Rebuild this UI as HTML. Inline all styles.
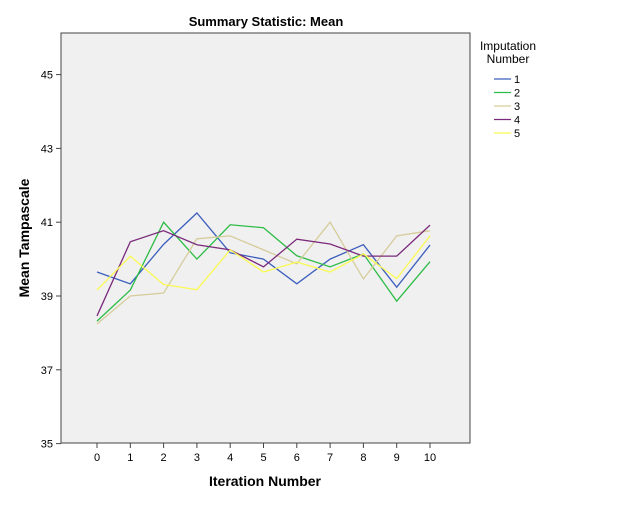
<!DOCTYPE html>
<html><head><meta charset="utf-8"><style>
body{margin:0;background:#fff;font-family:"Liberation Sans",Arial,sans-serif}
svg text{font-family:"Liberation Sans",Arial,sans-serif}
</style></head><body>
<svg id="chart" width="629" height="504" xmlns="http://www.w3.org/2000/svg">
<rect width="629" height="504" fill="#fff"/>
<text x="266" y="26" text-anchor="middle" font-size="13" font-weight="bold">Summary Statistic: Mean</text>
<rect x="61" y="33" width="409" height="410" fill="#f0f0f0" stroke="#444" stroke-width="1"/>
<g id="axes"></g>
<g id="series"></g>
<text transform="translate(29,238) rotate(-90)" text-anchor="middle" font-size="14" font-weight="bold">Mean Tampascale</text>
<text x="265" y="486" text-anchor="middle" font-size="14" font-weight="bold">Iteration Number</text>
<g id="legend">
<text x="508" y="50" text-anchor="middle" font-size="12">Imputation</text>
<text x="508" y="63" text-anchor="middle" font-size="12">Number</text>
</g>
</svg>
<script>
const iterations=[0,1,2,3,4,5,6,7,8,9,10];
const yTicks=[35,37,39,41,43,45];
const seriesNames=["1","2","3","4","5"];
const s1=[39.65,39.33,40.4,41.25,40.17,40.0,39.33,40.0,40.39,39.24,40.38];
const s2=[38.32,39.16,41.0,40.0,40.93,40.85,40.09,39.79,40.14,38.86,39.93];
const s3=[38.24,39.0,39.08,40.55,40.63,40.25,39.87,41.0,39.46,40.63,40.77];
const s4=[38.46,40.47,40.77,40.39,40.25,39.79,40.54,40.41,40.08,40.08,40.92];
const s5=[39.16,40.08,39.31,39.17,40.25,39.65,39.92,39.65,40.14,39.47,40.63];
const colors=["#3c5fbd","#2dbc46","#d6cc9b","#7b2a7b","#fafa50"];
const allSeries=[s1,s2,s3,s4,s5];
const NS="http://www.w3.org/2000/svg";
function xS(v){return 97+v*33.3;}
function yS(v){return 296-(v-39)*36.9;}
function mk(tag,attrs,parent){const e=document.createElementNS(NS,tag);for(const k in attrs)e.setAttribute(k,attrs[k]);parent.appendChild(e);return e;}
const axes=document.getElementById('axes');
yTicks.forEach(t=>{
  const l=mk('line',{x1:56,x2:61,y1:yS(t),y2:yS(t),stroke:'#444'},axes);
  
  
  const tx=mk('text',{x:53,y:yS(t)+4,'text-anchor':'end','font-size':11},axes);
  tx.textContent=t;
  
  
});
iterations.forEach(t=>{
  const l=mk('line',{x1:xS(t),x2:xS(t),y1:443,y2:448,stroke:'#444'},axes);
  
  
  const tx=mk('text',{x:xS(t),y:461,'text-anchor':'middle','font-size':11},axes);
  tx.textContent=t;
  
  
});
const sg=document.getElementById('series');
allSeries.forEach((s,i)=>{
  const pts=s.map((v,j)=>xS(iterations[j])+','+yS(v)).join(' ');
  const p=mk('polyline',{points:pts,fill:'none',stroke:colors[i],'stroke-width':1.3},sg);
  
  
});
const lg=document.getElementById('legend');
seriesNames.forEach((n,i)=>{
  const y=79+i*13.5;
  const l=mk('line',{x1:494,x2:511,y1:y,y2:y,stroke:colors[i],'stroke-width':1.3},lg);
  
  
  const t=mk('text',{x:514,y:y+4,'font-size':11},lg);
  t.textContent=n;
  
  
});
</script>
</body></html>
